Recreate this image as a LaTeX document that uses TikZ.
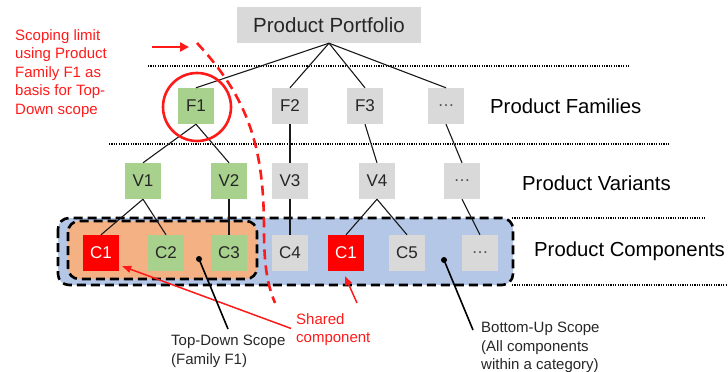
\documentclass[tikz,border=0pt]{standalone}
\usepackage{fontspec}
\setmainfont{Liberation Sans}
\usetikzlibrary{positioning,arrows.meta}
\definecolor{itemgray}{HTML}{D9D9D9}
\definecolor{itemgreen}{HTML}{A9D18E}
\definecolor{itemred}{HTML}{FF0000}
\definecolor{scopeblue}{HTML}{B4C7E7}
\definecolor{scopeorange}{HTML}{F4B183}
\definecolor{notered}{HTML}{FF1A1A}

\begin{document}
\begin{tikzpicture}[x=1pt, y=-1pt,
	item/.style = { minimum size=36pt, inner sep=0pt, text=black!85,
			font=\fontsize{17}{20}\selectfont },
	grayitem/.style = { item, fill=itemgray },
	greenitem/.style = { item, fill=itemgreen },
	reditem/.style = { item, fill=itemred, text=white },
	rowlabel/.style = { anchor=west, inner sep=0pt,
			font=\fontsize{20.3}{24}\selectfont },
	note/.style = { anchor=north west, inner sep=0pt, align=left,
			font=\fontsize{15}{18.5}\selectfont },
	scopebox/.style = { draw=black, line width=2.6pt, rounded corners=11pt,
			dash pattern=on 9pt off 5pt },
	level/.style = { line width=1.8pt, dash pattern=on 1.2pt off 1.2pt },
	tree/.style = { line width=1.1pt, black!90 },
	pointer/.style = { line width=1.6pt },
	redline/.style = { draw=notered, line width=2.6pt }]

  \useasboundingbox (0,0) rectangle (728,372);

  % scopes
  \draw [scopebox, fill=scopeblue] (58,218) rectangle (513,285);
  \draw [scopebox, fill=scopeorange] (68,221) rectangle (257,279);

  % level separators
  \draw [level] (148,66) -- (630,66);
  \draw [level] (109,144) -- (670,144);
  \draw [level] (512,218) -- (705,218);
  \draw [level] (512,285) -- (728,285);

  \node[name=portfolio, grayitem, minimum width=184pt,
	font=\fontsize{20.5}{24}\selectfont] at (329,25) {Product Portfolio};

  % families
  \node[name=f1, greenitem] at (196,106) {F1};
  \node[name=f2, grayitem] at (290,106) {F2};
  \node[name=f3, grayitem] at (365,106) {F3};
  \node[name=fx, grayitem, text=black!70] at (446,106) {…};
  \node[name=familylabel, rowlabel] at (490,106) {Product Families};

  % variants
  \node[name=v1, greenitem] at (143,181) {V1};
  \node[name=v2, greenitem] at (229,181) {V2};
  \node[name=v3, grayitem] at (290,181) {V3};
  \node[name=v4, grayitem] at (377,181) {V4};
  \node[name=vx, grayitem, text=black!70] at (462,181) {…};
  \node[name=variantlabel, rowlabel] at (522,183) {Product Variants};

  % components
  \node[name=c1a, reditem] at (101,253) {C1};
  \node[name=c2, greenitem] at (166,253) {C2};
  \node[name=c3, greenitem] at (229,253) {C3};
  \node[name=c4, grayitem] at (290,253) {C4};
  \node[name=c1b, reditem] at (346,253) {C1};
  \node[name=c5, grayitem] at (407,253) {C5};
  \node[name=cx, grayitem, text=black!70] at (480,253) {…};
  \node[name=componentlabel, rowlabel] at (534,251) {Product Components};

  \draw [tree] (portfolio.south) -- (f1.north);
  \draw [tree] (portfolio.south) -- (f2.north);
  \draw [tree] (portfolio.south) -- (f3.north);
  \draw [tree] (portfolio.south) -- (fx.north);
  \draw [tree] (f1.south) -- (v1.north);
  \draw [tree] (f1.south) -- (v2.north);
  \draw [tree] (f2.south) -- (v3.north);
  \draw [tree] (f3.south) -- (v4.north);
  \draw [tree] (fx.south) -- (vx.north);
  \draw [tree] (v1.south) -- (c1a.north);
  \draw [tree] (v1.south) -- (c2.north);
  \draw [tree] (v2.south) -- (c3.north);
  \draw [tree] (v3.south) -- (c4.north);
  \draw [tree] (v4.south) -- (c1b.north);
  \draw [tree] (v4.south) -- (c5.north);
  \draw [tree] (vx.south) -- (cx.north);

  % scoping limit
  \node[name=limit, circle, redline, minimum size=68pt] at (197,107) {};
  \draw [redline, dash pattern=on 10pt off 6pt]
	(197,43) .. controls (250,100) and (264,150) .. (264,230)
	.. controls (264,268) and (268,286) .. (275,303);
  \node[name=limitnote, note, text=notered] at (15,29)
	{Scoping limit\\using Product\\Family F1 as\\basis for Top-\\Down scope};
  \coordinate (limitstart) at (152,47);
  \coordinate (limitend) at (189,47);
  \draw [redline, -{Triangle[length=9pt,width=9pt]}] (limitstart) -- (limitend);

  % shared component
  \node[name=shared, note, text=notered] at (296,313) {Shared\\component};
  \draw [draw=notered, line width=1.5pt, -{Triangle[length=9pt,width=7pt]}]
	([shift={(-5,-1)}]shared.west) -- ([shift={(3,-5)}]c1a.south east);
  \draw [draw=notered, line width=1.5pt, -{Triangle[length=9pt,width=7pt]}]
	([shift={(61,-10)}]shared.north west) -- ([shift={(-1,5)}]c1b.south);

  % scope notes
  \node[name=topdown, note, text=black!85] at (171,335)
	{Top-Down Scope\\(Family F1)};
  \coordinate (topdowndot) at (199,259);
  \fill (topdowndot) circle[radius=3pt];
  \draw [pointer] (topdowndot) -- ([shift={(57,-6)}]topdown.north west);

  \node[name=bottomup, note, text=black!85] at (481,322)
	{Bottom-Up Scope\\(All components\\within a category)};
  \coordinate (bottomupdot) at (444,260);
  \fill (bottomupdot) circle[radius=3pt];
  \draw [pointer] (bottomupdot) -- ([shift={(-8,8)}]bottomup.north west);
\end{tikzpicture}
\end{document}
